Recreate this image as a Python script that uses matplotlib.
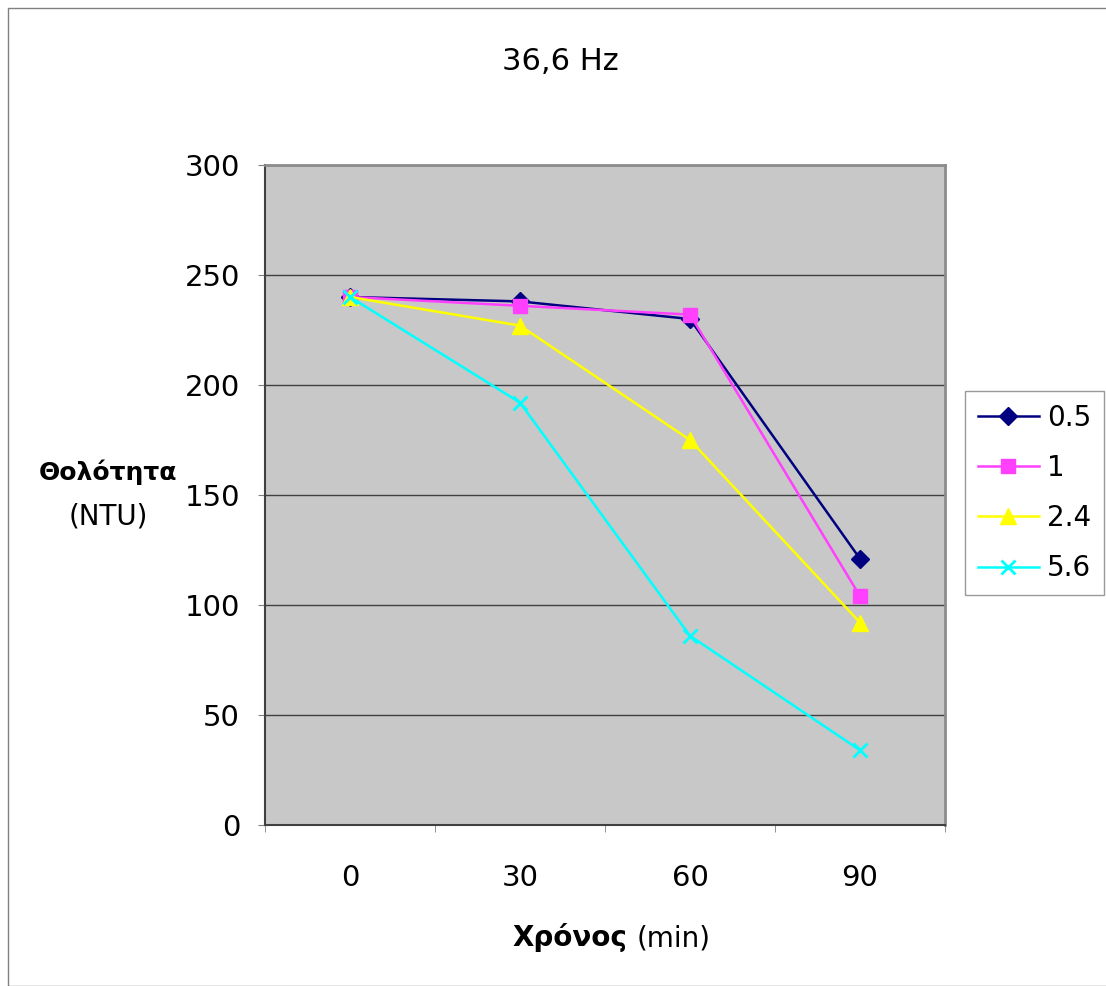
import matplotlib.pyplot as plt
from matplotlib.patches import Rectangle

# data
times = ['0', '30', '60', '90']
s_05 = [240, 238, 230, 121]
s_1 = [240, 236, 232, 104]
s_24 = [240, 227, 175, 92]
s_56 = [240, 192, 86, 34]
series_names = ['0.5', '1', '2.4', '5.6']

fig = plt.figure(figsize=(11.06, 9.86), dpi=100)
fig.patches.append(Rectangle((8 / 1106, 0), 1, 1 - 8 / 986, transform=fig.transFigure,
                             fill=False, edgecolor='#808080', linewidth=1))

ax = fig.add_axes([265 / 1106, 1 - 825 / 986, 680 / 1106, 660 / 986])
ax.set_facecolor('#C8C8C8')

x = list(range(len(times)))
ax.plot(x, s_05, color='#000080', marker='D', markersize=9, linewidth=1.8, label=series_names[0])
ax.plot(x, s_1, color='#FF40FF', marker='s', markersize=10, linewidth=1.8, label=series_names[1])
ax.plot(x, s_24, color='#FFFF00', marker='^', markersize=11, linewidth=1.8, label=series_names[2])
ax.plot(x, s_56, color='#00FFFF', marker='x', markersize=10, markeredgewidth=2, linewidth=1.8, label=series_names[3])

ax.set_xlim(-0.5, 3.5)
ax.set_ylim(0, 300)
ax.set_yticks(range(0, 301, 50))
ax.yaxis.grid(True, color='#404040', linewidth=1)
ax.set_axisbelow(True)
ax.set_xticks(x)
ax.set_xticklabels(times)
ax.set_xticks([-0.5, 0.5, 1.5, 2.5, 3.5], minor=True)
ax.tick_params(axis='x', which='major', length=0, pad=28, labelsize=21)
ax.tick_params(axis='x', which='minor', length=5, color='#808080', direction='out')
ax.tick_params(axis='y', length=5, color='#808080', labelsize=21, pad=13)

# plot area: light gray frame on top/right, darker axes on left/bottom
for side in ['top', 'right']:
    ax.spines[side].set_color('#8C8C8C')
    ax.spines[side].set_linewidth(2)
for side in ['left', 'bottom']:
    ax.spines[side].set_color('#404040')
    ax.spines[side].set_linewidth(1.5)

fig.text(560 / 1106, 1 - 61 / 986, '36,6 Hz', ha='center', va='center', fontsize=22)
fig.text(108 / 1106, 1 - 472 / 986, 'Θολότητα', ha='center', va='center', fontsize=18, fontweight='bold')
fig.text(108 / 1106, 1 - 517 / 986, '(NTU)', ha='center', va='center', fontsize=20)
fig.text(627 / 1106, 1 - 938 / 986, 'Χρόνος', ha='right', va='center', fontsize=20, fontweight='bold')
fig.text(637 / 1106, 1 - 938 / 986, '(min)', ha='left', va='center', fontsize=20)

leg = ax.legend(loc='center left', bbox_to_anchor=(965 / 1106, 1 - 493 / 986),
                bbox_transform=fig.transFigure, fontsize=20, frameon=True, fancybox=False,
                borderpad=0.45, labelspacing=0.8, handlelength=2.2, handletextpad=0.3,
                borderaxespad=0)
leg.get_frame().set_edgecolor('#808080')
leg.get_frame().set_linewidth(1)

fig.savefig('out.png', dpi=100)
